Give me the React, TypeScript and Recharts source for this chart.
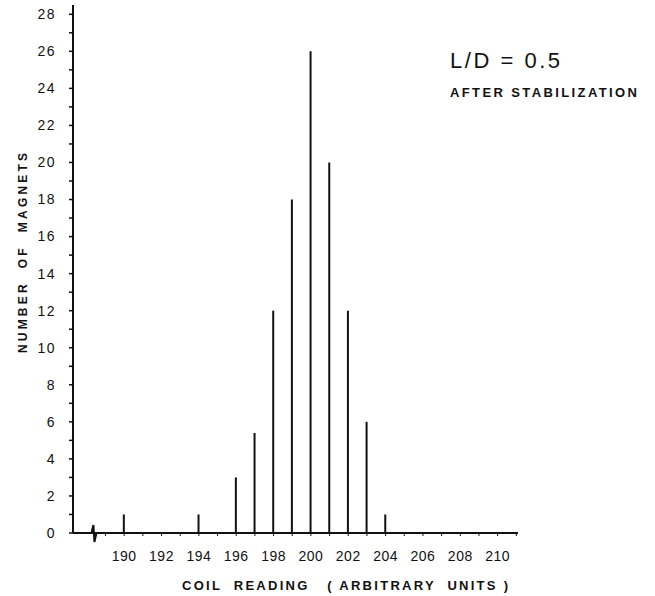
import React from 'react';
import { BarChart, Bar, XAxis, YAxis, ReferenceDot } from 'recharts';

// coil readings that got at least one magnet
const readings = [190, 194, 196, 197, 198, 199, 200, 201, 202, 203, 204];
const magnetCounts = [1, 1, 3, 5.4, 12, 18, 26, 20, 12, 6, 1];

const yTicks = [0, 1, 2, 3, 4, 5, 6, 7, 8, 9, 10, 11, 12, 13, 14, 15, 16, 17, 18, 19, 20, 21, 22, 23, 24, 25, 26, 27, 28];
const xTicks = [189, 190, 191, 192, 193, 194, 195, 196, 197, 198, 199, 200, 201, 202, 203, 204, 205, 206, 207, 208, 209, 210, 211];

const title = 'L/D = 0.5';
const subtitle = 'AFTER STABILIZATION';
const xTitle = 'COIL  READING   ( ARBITRARY  UNITS )';
const yTitle = 'NUMBER  OF  MAGNETS';

const ink = '#111';
const font = '"Liberation Sans", Arial, sans-serif';

const data = readings.map((r, i) => ({ reading: r, count: magnetCounts[i] }));

const YTick = (props: any) => {
    const { x, y, payload } = props;
    if (payload.value % 2 !== 0) return <g />;
    return (
        <text x={x} y={y} dy="0.35em" textAnchor="end" fill={ink} fontSize={14} fontFamily={font} letterSpacing={1.5}>
            {payload.value}
        </text>
    );
};

const XTick = (props: any) => {
    const { x, y, payload } = props;
    if (payload.value % 2 !== 0 || payload.value < 190) return <g />;
    return (
        <text x={x} y={y} dy="0.71em" textAnchor="middle" fill={ink} fontSize={14} fontFamily={font} letterSpacing={0.5}>
            {payload.value}
        </text>
    );
};

// axis break squiggle on the baseline
const BreakMark = (props: any) => {
    const { cx, cy } = props;
    return (
        <path
            d={`M${cx - 5},${cy} L${cx - 1},${cy} L${cx + 1},${cy - 8} L${cx + 2},${cy + 9} L${cx + 4},${cy} L${cx + 8},${cy}`}
            stroke={ink}
            strokeWidth={2}
            fill="none"
        />
    );
};

export default function App() {
    return (
        <div style={{ position: 'relative', width: 655, height: 596, background: '#fff' }}>
            <style>{'body{margin:0}'}</style>
            <BarChart
                width={655}
                height={596}
                data={data}
                margin={{ top: 5, right: 137, bottom: 33, left: 0 }}
            >
                <XAxis
                    dataKey="reading"
                    type="number"
                    domain={[187.26, 211.09]}
                    ticks={xTicks}
                    interval={0}
                    height={30}
                    tickSize={3}
                    tickMargin={15}
                    tick={<XTick />}
                    axisLine={{ stroke: ink, strokeWidth: 2 }}
                    tickLine={{ stroke: ink, strokeWidth: 1 }}
                    allowDataOverflow
                />
                <YAxis
                    type="number"
                    domain={[0, 28.5]}
                    ticks={yTicks}
                    interval={0}
                    width={73}
                    tickSize={4}
                    tickMargin={13}
                    tick={<YTick />}
                    axisLine={{ stroke: ink, strokeWidth: 2 }}
                    tickLine={{ stroke: ink, strokeWidth: 1.5 }}
                    allowDataOverflow
                />
                <Bar dataKey="count" fill={ink} barSize={2} isAnimationActive={false} />
                <ReferenceDot x={188.3} y={0} r={0} shape={<BreakMark />} />
            </BarChart>
            <svg
                width={655}
                height={596}
                style={{ position: 'absolute', left: 0, top: 0, pointerEvents: 'none' }}
            >
                <text x={450} y={68} fontSize={22} fontFamily={font} fill={ink} textLength={110} lengthAdjust="spacing" style={{ whiteSpace: 'pre' }}>
                    {title}
                </text>
                <text x={450} y={97} fontSize={13} fontWeight="bold" fontFamily={font} fill={ink} textLength={187} lengthAdjust="spacing">
                    {subtitle}
                </text>
                <text x={345} y={590} textAnchor="middle" fontSize={13} fontWeight="bold" fontFamily={font} fill={ink} textLength={326} lengthAdjust="spacing" style={{ whiteSpace: 'pre' }}>
                    {xTitle}
                </text>
                <text
                    transform="translate(27,253) rotate(-90)"
                    textAnchor="middle"
                    fontSize={12}
                    fontWeight="bold"
                    fontFamily={font}
                    fill={ink}
                    textLength={200}
                    lengthAdjust="spacing"
                    style={{ whiteSpace: 'pre' }}
                >
                    {yTitle}
                </text>
            </svg>
        </div>
    );
}
